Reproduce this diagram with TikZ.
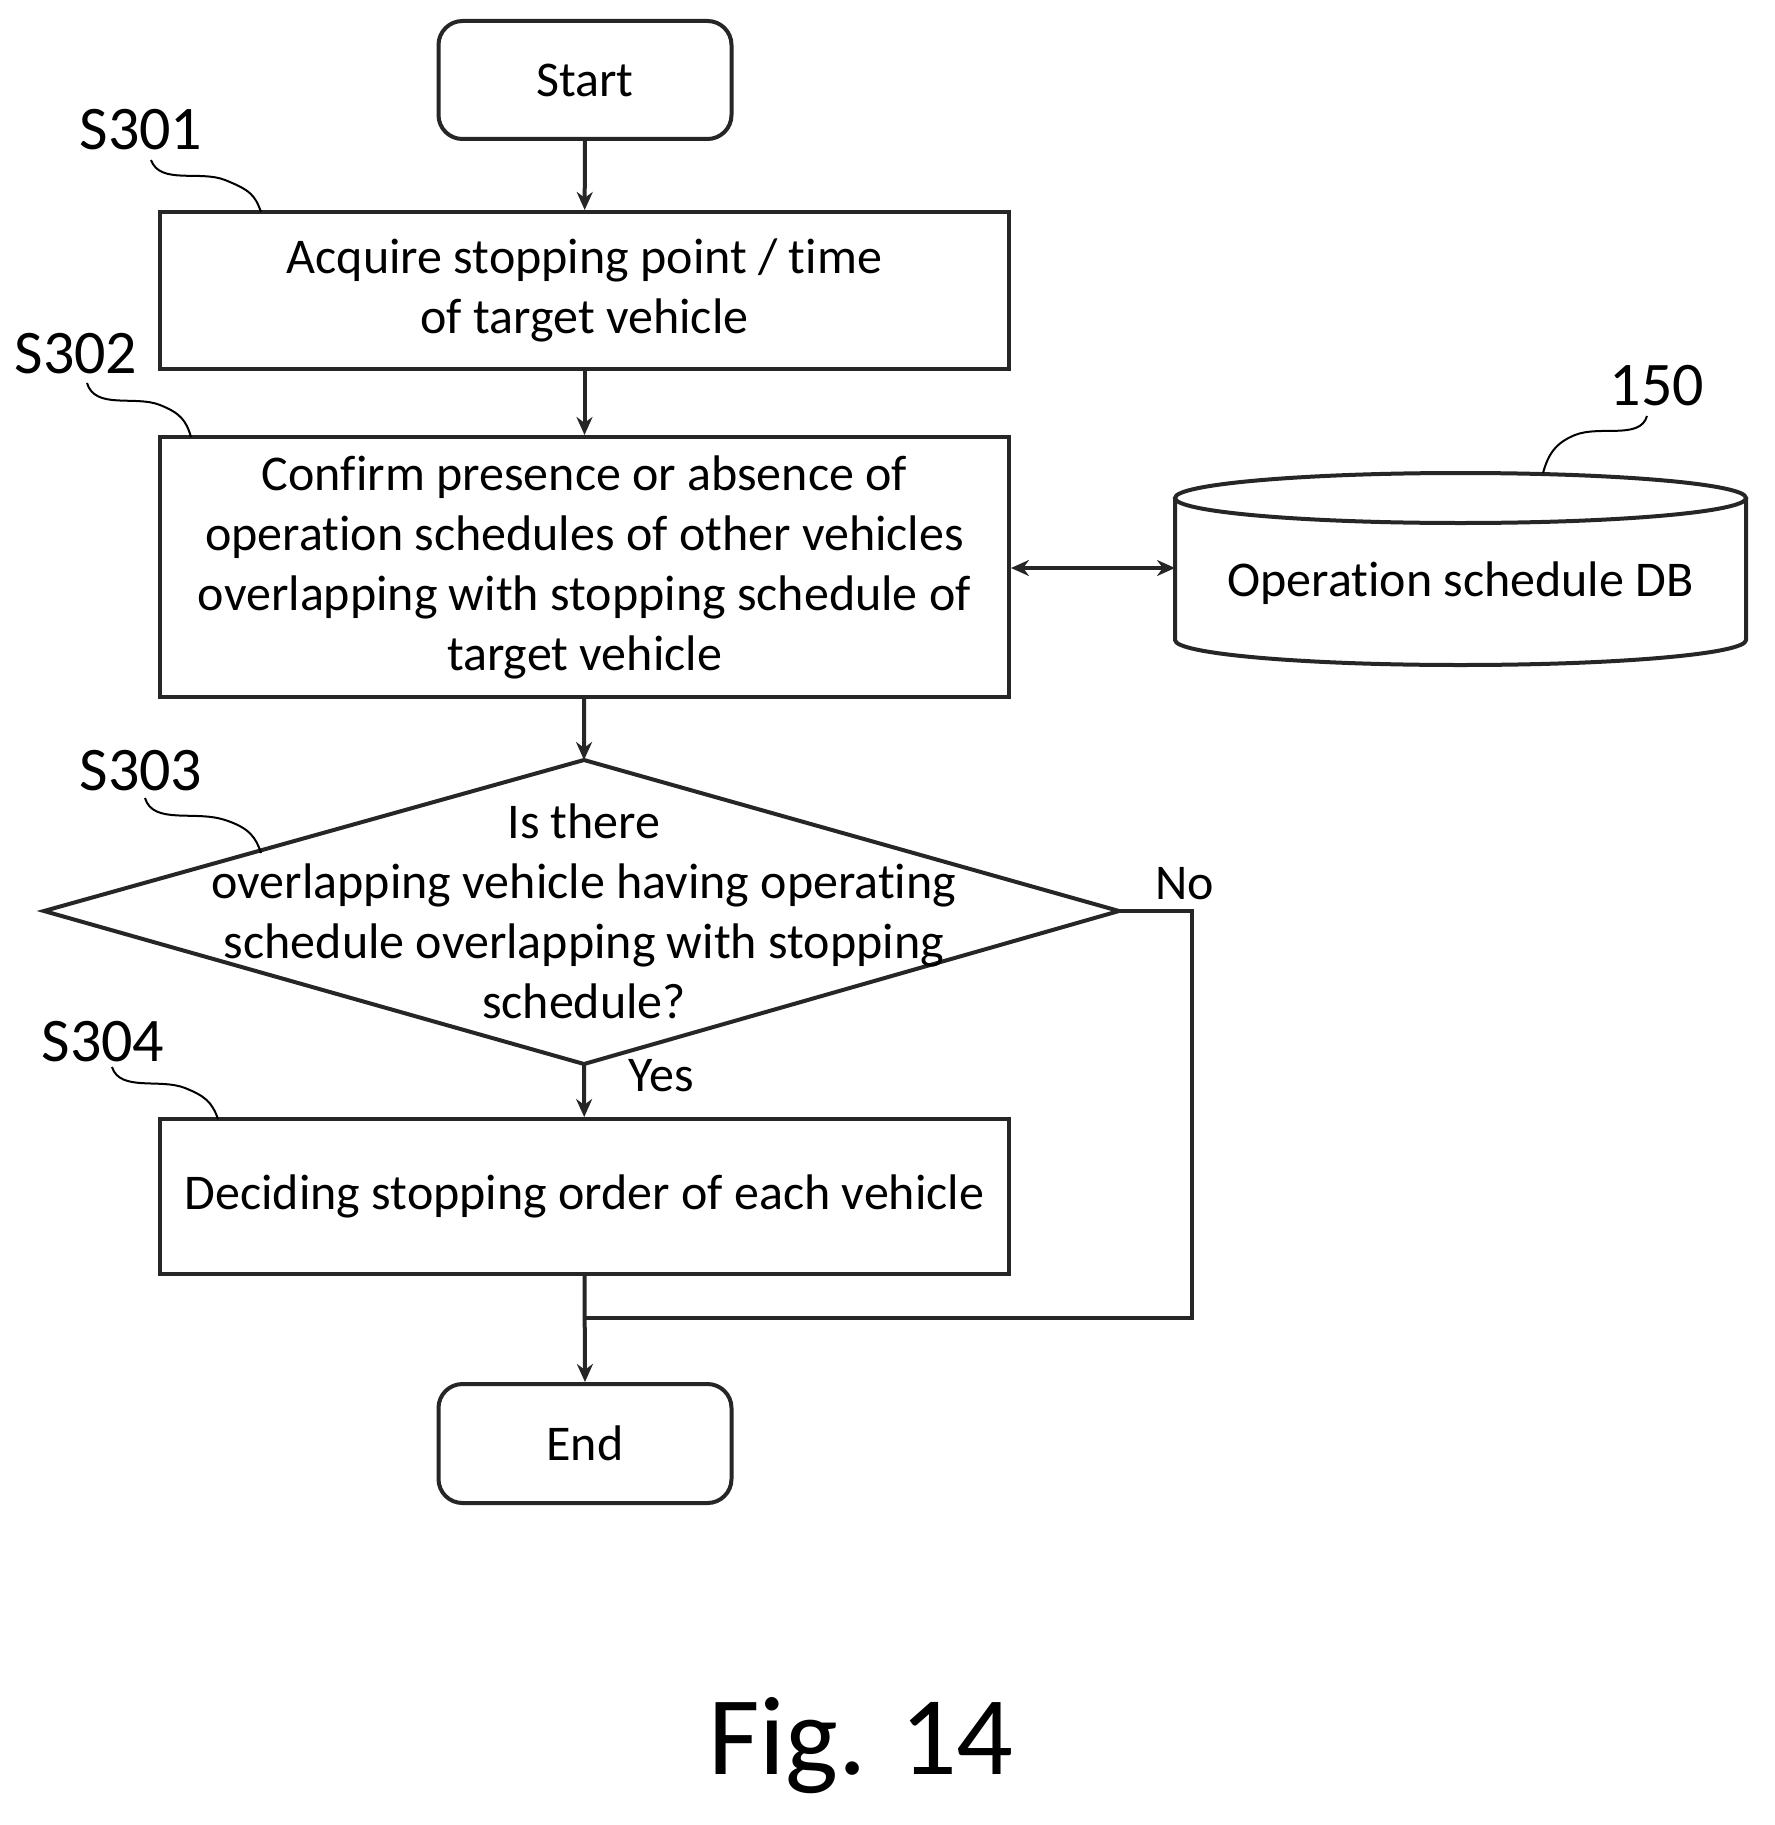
\documentclass[tikz,border=0pt]{standalone}
\usepackage{fontspec}
\setmainfont{Carlito}[Ligatures=NoCommon]
\usetikzlibrary{arrows.meta,shapes.geometric}
\begin{document}
\begin{tikzpicture}[x=0.5pt,y=-0.5pt,
 every node/.style={font=\fontsize{25}{30}\selectfont},
 ln/.style={line width=2pt,draw=black!85},
 box/.style={ln,rectangle,align=center,inner sep=0pt},
 term/.style={ln,rounded corners=12pt,inner sep=0pt},
 arr/.style={ln,-{Stealth[length=9pt,width=8pt]}},
 lab/.style={font=\fontsize{31}{36}\selectfont},
 wv/.style={line width=1pt}]
\useasboundingbox (0,0) rectangle (1774,1825);
\node[term,minimum width=146.5pt,minimum height=59pt] (start) at (585,80) {Start};
\node[box,minimum width=424.5pt,minimum height=78.5pt] (b1) at (584.5,290.5) {Acquire stopping point / time\\of target vehicle};
\node[box,minimum width=424.5pt,minimum height=130pt] (b2) at (584.5,567) {Confirm presence or absence of\\operation schedules of other vehicles\\overlapping with stopping schedule of\\target vehicle};
\coordinate (dt) at (584,760); \coordinate (db) at (584,1064);
\coordinate (dl) at (44,911); \coordinate (dr) at (1119,911);
\draw[ln] (dt) -- (dr) -- (db) -- (dl) -- cycle;
\node[align=center] (dtext) at (584,911) {Is there\\overlapping vehicle having operating\\schedule overlapping with stopping\\schedule?};
\node[box,minimum width=424.5pt,minimum height=77.5pt] (b4) at (584.5,1196.5) {Deciding stopping order of each vehicle};
\node[term,minimum width=146.5pt,minimum height=59.5pt] (end) at (585,1443.5) {End};
% cylinder
\draw[ln] (1175,498) -- (1175,640) arc[start angle=180,end angle=0,x radius=285.5,y radius=25] -- (1746,498);
\draw[ln] (1460.5,498) ellipse[x radius=285.5,y radius=25];
\node (db1) at (1460.5,583) {Operation schedule DB};
\coordinate (dbl) at (1175,568);
% arrows
\draw[arr] (start) -- (b1);
\draw[arr] (b1) -- (b2);
\draw[arr] (b2) -- (dt);
\draw[arr] (db) -- (b4);
\draw[ln,{Stealth[length=9pt,width=8pt]}-{Stealth[length=9pt,width=8pt]}] (b2.east |- dbl) -- (dbl);
\coordinate (m) at (584.5,1318);
\draw[arr] (b4.south) -- (end.north);
\draw[ln] (dr) -- (1192,911) -- (1192,1318) -- (m);
\node (no) at (1185,884) {No};
\node (yes) at (661,1076) {Yes};
% labels
\node[lab] (l1) at (141,130) {S301};
\node[lab] (l2) at (76,354) {S302};
\node[lab] (l3) at (141,771) {S303};
\node[lab] (l4) at (103,1042) {S304};
\node[lab] (l5) at (1657,386) {150};
\draw[wv] (151,160) .. controls (160,185) and (200,170) .. (225,180) .. controls (250,190) and (255,195) .. (261,212);
\draw[wv] (87,383) .. controls (95,410) and (135,395) .. (160,405) .. controls (180,413) and (186,420) .. (191,437);
\draw[wv] (145,798) .. controls (153,825) and (195,810) .. (225,820) .. controls (250,828) and (256,838) .. (261,853);
\draw[wv] (112,1067) .. controls (120,1092) and (160,1078) .. (185,1088) .. controls (205,1096) and (212,1102) .. (218,1119);
\draw[wv] (1647,416) .. controls (1640,440) and (1600,425) .. (1575,435) .. controls (1555,443) and (1548,455) .. (1543,473);
\node[font=\fontsize{56}{64}\selectfont] (fig) at (861,1746) {Fig. 14};
\end{tikzpicture}
\end{document}
